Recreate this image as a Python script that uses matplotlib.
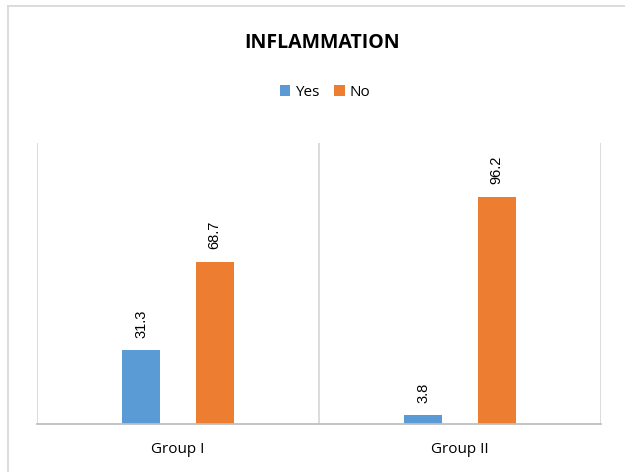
import matplotlib.pyplot as plt
from matplotlib.lines import Line2D
import numpy as np

groups = ["Group I", "Group II"]
yes_vals = [31.3, 3.8]
no_vals = [68.7, 96.2]

fig = plt.figure(figsize=(6.25, 4.72), dpi=100)
ax = fig.add_axes([0.0592, 0.1017, 0.9024, 0.5953])

x = np.arange(len(groups))
w = 0.135
b1 = ax.bar(x - 0.13, yes_vals, w, color="#5B9BD5", label="Yes")
b2 = ax.bar(x + 0.13, no_vals, w, color="#ED7D31", label="No")

for bars in (b1, b2):
    for r in bars:
        ax.annotate(f"{r.get_height():.1f}", (r.get_x() + r.get_width() / 2, r.get_height()),
                    xytext=(0, 9), textcoords="offset points", rotation=90,
                    ha="center", va="bottom", fontsize=10.5, family="Liberation Sans")

ax.set_xlim(-0.5, 1.5)
ax.set_ylim(0, 119)
ax.set_yticks([])
ax.set_xticks(x)
ax.set_xticklabels(groups, fontsize=11, family="Open Sans")
ax.tick_params(axis="x", length=0, pad=13)

for s in ["top", "right", "left"]:
    ax.spines[s].set_visible(False)
ax.spines["bottom"].set_color("#BFBFBF")
ax.spines["bottom"].set_linewidth(1.3)
for xv in [-0.5, 0.5, 1.5]:
    ax.axvline(xv, color="#D9D9D9", lw=1.3, zorder=0)

fig.text(0.515, 0.909, "INFLAMMATION", ha="center", va="center",
         fontsize=14, fontweight="bold", family="Open Sans")
fig.legend(handles=[b1, b2], labels=["Yes", "No"], loc="center",
           bbox_to_anchor=(0.52, 0.805), ncol=2, frameon=False,
           handlelength=0.7, handleheight=0.7, handletextpad=0.3, columnspacing=1.0,
           prop={"family": "Open Sans", "size": 11})

# chart area border (top and left edges visible)
fig.add_artist(Line2D([0.013, 0.013], [0, 0.988], transform=fig.transFigure, color="#D9D9D9", lw=1.3))
fig.add_artist(Line2D([0.013, 1], [0.988, 0.988], transform=fig.transFigure, color="#D9D9D9", lw=1.3))

fig.savefig("out.png", dpi=100)
